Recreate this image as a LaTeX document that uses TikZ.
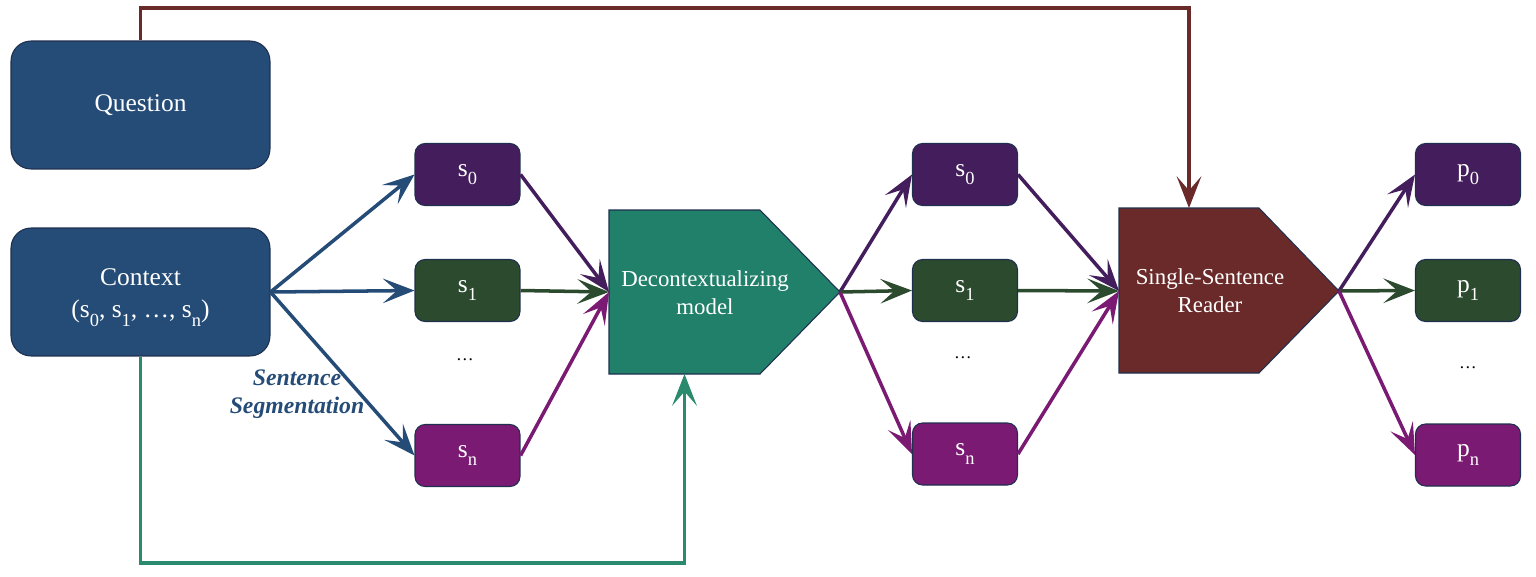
\documentclass[tikz,border=0pt]{standalone}
\usepackage{fontspec}
\setmainfont{Liberation Serif}
\usetikzlibrary{arrows.meta}
\definecolor{qblue}{HTML}{254B77}
\definecolor{spurple}{HTML}{441E5C}
\definecolor{sgreen}{HTML}{2B4A2E}
\definecolor{smag}{HTML}{7B1A73}
\definecolor{mteal}{HTML}{21806A}
\definecolor{lteal}{HTML}{2A8A6E}
\definecolor{rred}{HTML}{6A2A2A}
\definecolor{edge}{HTML}{1F2F4F}
\newcommand{\lowidx}[1]{\raisebox{-5pt}{\fontsize{10.5}{10}\selectfont #1}}
\tikzset{
	box/.style={draw=edge, line width=0.6pt, rounded corners=0.2cm, minimum width=2.1cm, minimum height=1.24cm, text=white, font=\fontsize{14.5}{18}\selectfont},
	bigbox/.style={box, rounded corners=0.4cm, minimum width=5.18cm, minimum height=2.56cm},
	block/.style={draw=edge, line width=0.6pt},
	blocktext/.style={text=white, align=center, font=\fontsize{13}{16}\selectfont},
	arr/.style={line width=2pt, -{Stealth[length=18pt,width=14pt,inset=8pt]}}
}
\begin{document}
\begin{tikzpicture}[x=0.02cm,y=-0.02cm]
	\useasboundingbox (0,0) rectangle (1536,576);

	\node[bigbox, fill=qblue] (q) at (140.5,105) {Question};
	\node[bigbox, fill=qblue, align=center] (ctx) at (140.5,292) {\rule{0pt}{16pt}Context\\(s\lowidx{0}, s\lowidx{1}, \dots, s\lowidx{n})};
	\node[font=\fontsize{13.5}{16}\selectfont\bfseries\itshape, text=qblue, align=center] (seg) at (297,394) {Sentence\\Segmentation};

	\node[box, fill=spurple] (a0) at (467.5,174.5) {s\lowidx{0}};
	\node[box, fill=sgreen] (a1) at (467.5,290.5) {s\lowidx{1}};
	\node (ad) at (465,360) {\dots};
	\node[box, fill=smag] (an) at (467.5,455.5) {s\lowidx{n}};

	\draw[block, fill=mteal] (609,210) -- (760,210) -- (840,292) -- (760,374) -- (609,374) -- cycle;
	\node[blocktext] (dm) at (705,293) {Decontextualizing\\model};
	\coordinate (dm-in) at (609,292);
	\coordinate (dm-out) at (840,292);
	\coordinate (dm-bot) at (684.5,374);

	\node[box, fill=spurple] (b0) at (965,174.5) {s\lowidx{0}};
	\node[box, fill=sgreen] (b1) at (965,290.5) {s\lowidx{1}};
	\node (bd) at (963,358) {\dots};
	\node[box, fill=smag] (bn) at (965,454) {s\lowidx{n}};

	\draw[block, fill=rred] (1119,208) -- (1259,208) -- (1339,291) -- (1259,373) -- (1119,373) -- cycle;
	\node[blocktext] (rd) at (1210,291) {Single-Sentence\\Reader};
	\coordinate (rd-in) at (1119,291);
	\coordinate (rd-out) at (1339,291);
	\coordinate (rd-top) at (1189,208);

	\node[box, fill=spurple] (p0) at (1468,174.5) {p\lowidx{0}};
	\node[box, fill=sgreen] (p1) at (1468,290.5) {p\lowidx{1}};
	\node (pd) at (1468,368) {\dots};
	\node[box, fill=smag] (pn) at (1468,455) {p\lowidx{n}};

	\draw[arr, qblue] (ctx.east) -- (a0.west);
	\draw[arr, qblue] (ctx.east) -- (a1.west);
	\draw[arr, qblue] (ctx.east) -- (an.west);
	\draw[arr, spurple] (a0.east) -- (dm-in);
	\draw[arr, sgreen] (a1.east) -- (dm-in);
	\draw[arr, smag] (an.east) -- (dm-in);

	\draw[arr, spurple] (dm-out) -- (b0.west);
	\draw[arr, sgreen] (dm-out) -- (b1.west);
	\draw[arr, smag] (dm-out) -- (bn.west);
	\draw[arr, spurple] (b0.east) -- (rd-in);
	\draw[arr, sgreen] (b1.east) -- (rd-in);
	\draw[arr, smag] (bn.east) -- (rd-in);

	\draw[arr, spurple] (rd-out) -- (p0.west);
	\draw[arr, sgreen] (rd-out) -- (p1.west);
	\draw[arr, smag] (rd-out) -- (pn.west);

	\draw[arr, rred] (q.north) -- (q.north |- 0,8) -| (rd-top);
	\draw[arr, lteal] (ctx.south) -- (ctx.south |- 0,563) -| (dm-bot);
\end{tikzpicture}
\end{document}
